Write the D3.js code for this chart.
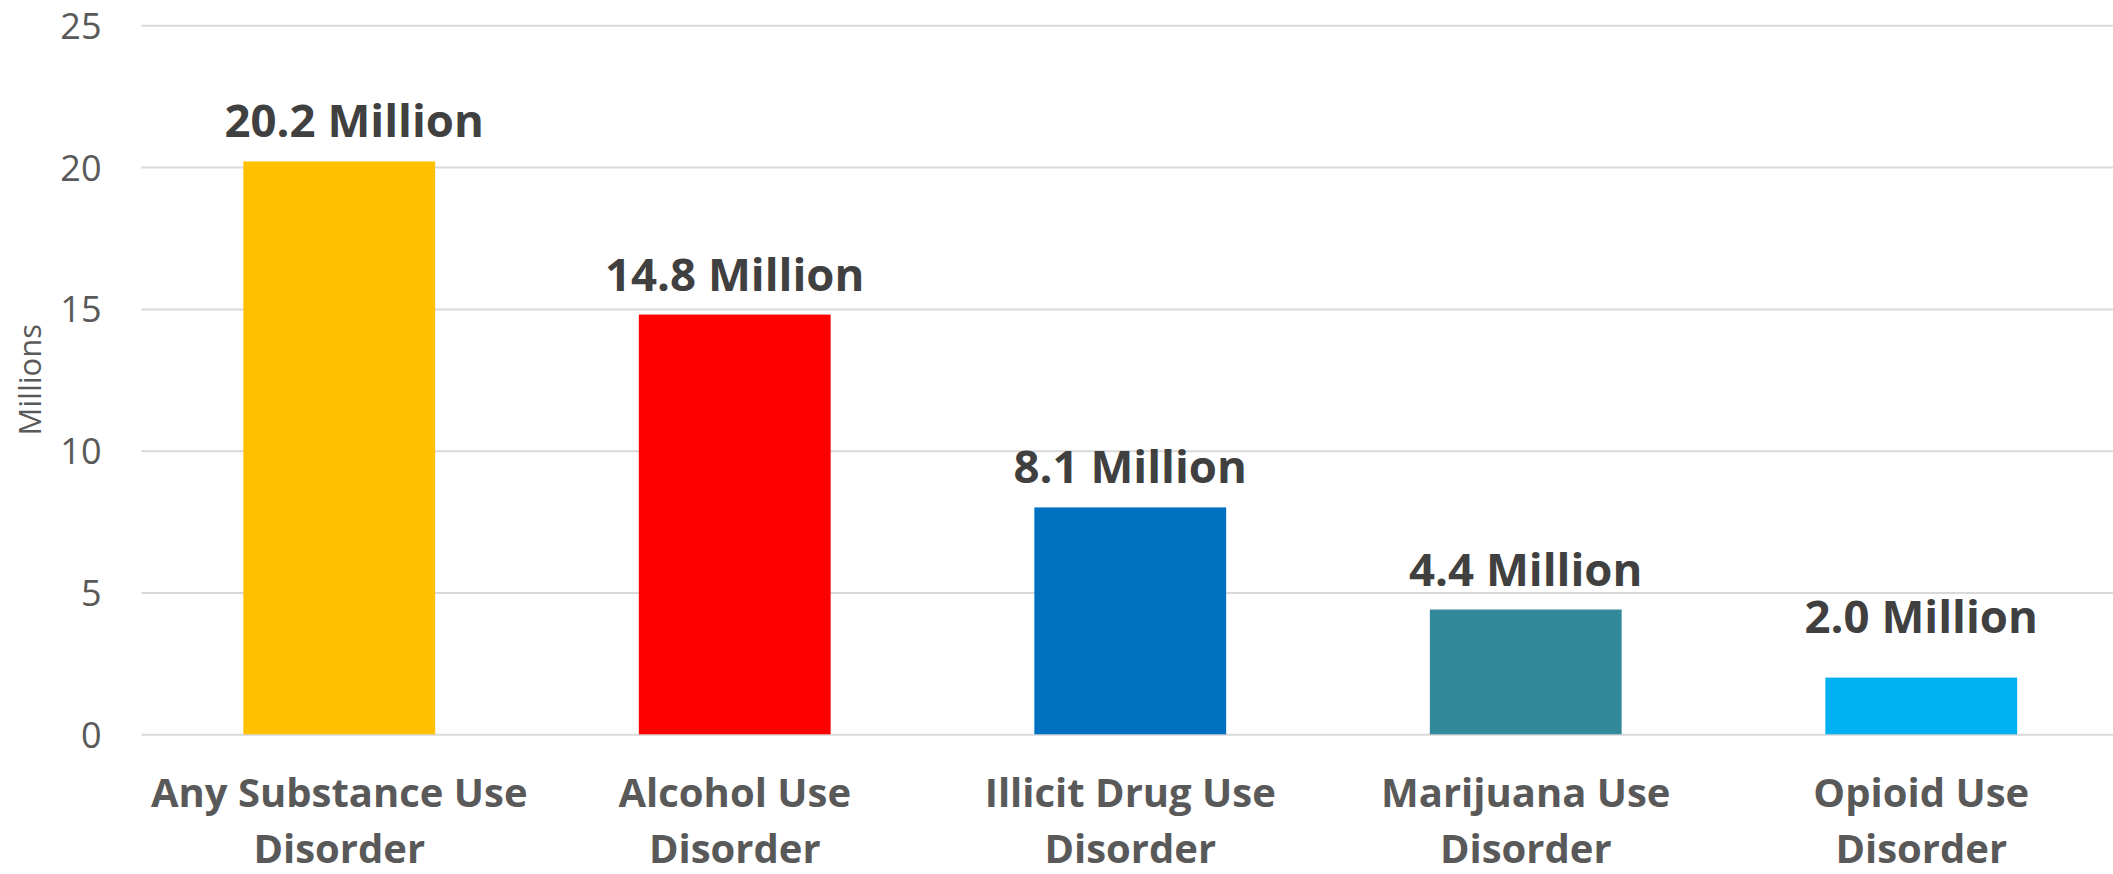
<!DOCTYPE html>
<html>
<head>
<meta charset="utf-8">
<script src="https://cdn.jsdelivr.net/npm/d3@7"></script>
<style>
	html, body { margin: 0; padding: 0; background: #fff; }
	svg { display: block; }
</style>
</head>
<body>
<figure id="chart" style="margin:0"></figure>
<script>
// chart data
const categories = [
	["Any Substance Use", "Disorder"],
	["Alcohol Use", "Disorder"],
	["Illicit Drug Use", "Disorder"],
	["Marijuana Use", "Disorder"],
	["Opioid Use", "Disorder"]
];
const values = [20.2, 14.8, 8.0, 4.4, 2.0];
const valueLabels = ["20.2 Million", "14.8 Million", "8.1 Million", "4.4 Million", "2.0 Million"];
const barColors = ["#FFC000", "#FF0000", "#0070C0", "#31899A", "#00B0F0"];
const yTicks = [0, 5, 10, 15, 20, 25];

const width = 2113;
const height = 874;
// the plot runs a few pixels past the right edge, like the original
const margin = { top: 25.3, right: -6, bottom: 874 - 734.3, left: 141.5 };

const svg = d3.select("figure#chart").append("svg")
	.attr("width", width)
	.attr("height", height)
	.attr("viewBox", `0 0 ${width} ${height}`);

const g = svg.append("g")
	.attr("transform", "translate(" + margin.left + "," + margin.top + ")");

const innerW = width - margin.left - margin.right;
const innerH = height - margin.top - margin.bottom;

const xScale = d3.scaleBand()
	.domain(d3.range(values.length))
	.range([0, innerW])
	.paddingInner(0.515)
	.paddingOuter(0.2575);

const yScale = d3.scaleLinear()
	.domain([0, 25])
	.range([innerH, 0]);

// gridlines + tick labels
const yAxis = g.append("g")
	.call(d3.axisLeft(yScale)
		.tickValues(yTicks)
		.tickSize(-innerW)
		.tickPadding(40));
yAxis.select(".domain").remove();
yAxis.selectAll(".tick line")
	.attr("stroke", "#d9d9d9")
	.attr("stroke-width", 2);
yAxis.selectAll(".tick text")
	.attr("fill", "#595959")
	.attr("font-family", "'Open Sans', sans-serif")
	.attr("font-size", 36)
	.attr("dy", "0.36em");

// bars
g.selectAll(".bar")
	.data(values)
	.enter()
	.append("rect")
	.attr("class", "bar")
	.attr("x", (d, i) => xScale(i))
	.attr("y", (d) => yScale(d))
	.attr("width", xScale.bandwidth())
	.attr("height", (d) => innerH - yScale(d))
	.attr("fill", (d, i) => barColors[i]);

// value labels; two of them were dragged by hand in the original
const nudgeX = { 0: 15 };
const nudgeY = { 4: 21 };
g.selectAll(".label")
	.data(values)
	.enter()
	.append("text")
	.attr("class", "label")
	.attr("x", (d, i) => xScale(i) + xScale.bandwidth() / 2 + (nudgeX[i] || 0))
	.attr("y", (d, i) => yScale(d) - 24 - (nudgeY[i] || 0))
	.attr("text-anchor", "middle")
	.attr("fill", "#404040")
	.attr("font-family", "'Open Sans', sans-serif")
	.attr("font-weight", "bold")
	.attr("font-size", 45.5)
	.text((d, i) => valueLabels[i]);

// category labels
const cat = g.selectAll(".cat")
	.data(categories)
	.enter()
	.append("text")
	.attr("class", "cat")
	.attr("text-anchor", "middle")
	.attr("fill", "#595959")
	.attr("font-family", "'Open Sans', sans-serif")
	.attr("font-weight", "bold")
	.attr("font-size", 40);
cat.each(function (lines, i) {
	const cx = xScale(i) + xScale.bandwidth() / 2;
	d3.select(this).selectAll("tspan")
		.data(lines)
		.enter()
		.append("tspan")
		.attr("x", cx)
		.attr("y", (d, j) => innerH + 73 + j * 56)
		.text((d) => d);
});

// axis title
svg.append("text")
	.attr("transform", "translate(41," + (margin.top + yScale(12.5)) + ") rotate(-90)")
	.attr("text-anchor", "middle")
	.attr("fill", "#595959")
	.attr("font-family", "'Open Sans', sans-serif")
	.attr("font-size", 31)
	.text("Millions");
</script>
</body>
</html>
